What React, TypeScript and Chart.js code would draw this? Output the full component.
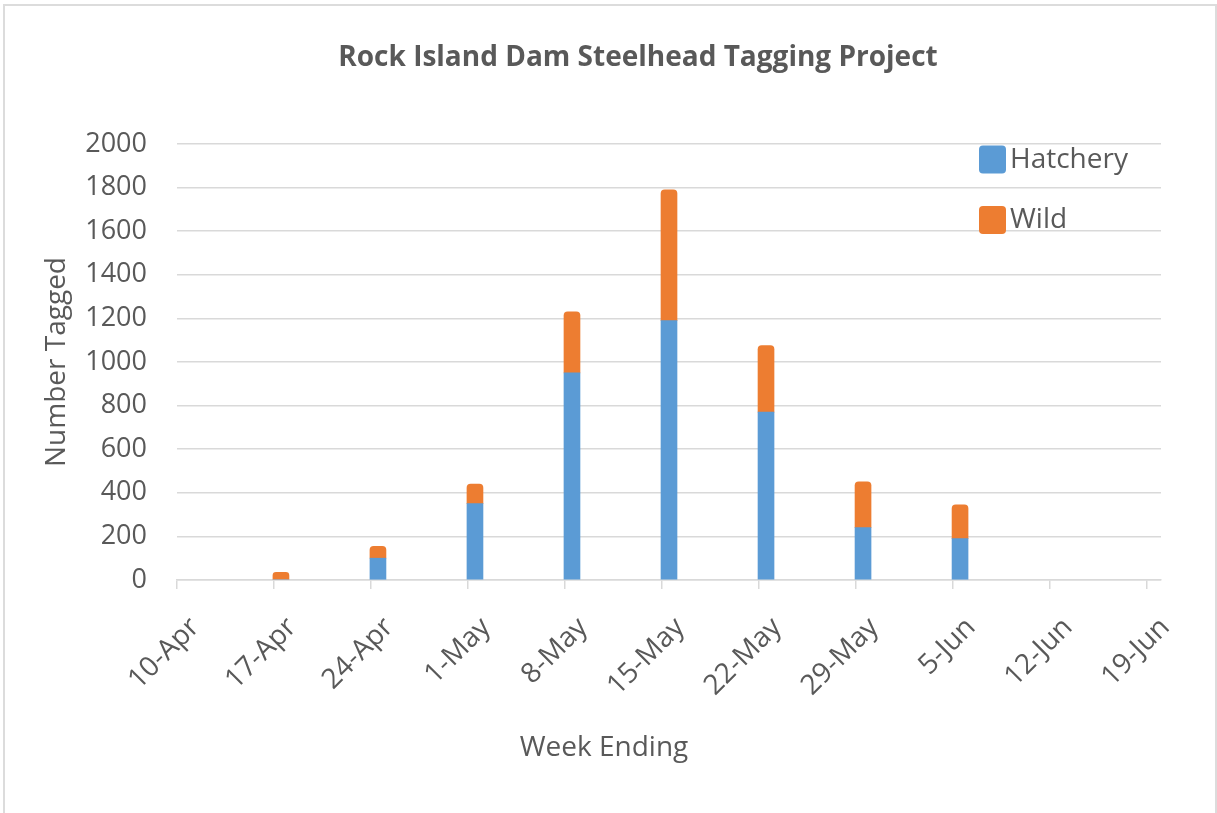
import React, { useEffect, useRef } from "react";
import { Chart, registerables } from "chart.js";

Chart.register(...registerables);

// ---- Data ----
const chartTitle = "Rock Island Dam Steelhead Tagging Project";
const xAxisTitle = "Week Ending";
const yAxisTitle = "Number Tagged";

const tickLabels = ["10-Apr", "17-Apr", "24-Apr", "1-May", "8-May", "15-May", "22-May", "29-May", "5-Jun", "12-Jun", "19-Jun"];
const weekEnding = ["17-Apr", "24-Apr", "1-May", "8-May", "15-May", "22-May", "29-May", "5-Jun"];
const hatchery = [0, 100, 350, 950, 1190, 770, 240, 190];
const wild = [35, 55, 90, 280, 600, 305, 210, 155];

const yMin = 0;
const yMax = 2000;
const yStep = 200;

// ---- Styles ----
const BLUE = "#5B9BD5";
const ORANGE = "#ED7D31";
const TEXT = "#595959";
const GRID = "#d9d9d9";
const FONT = "'Open Sans', sans-serif";

const MONTHS: Record<string, number> = { Jan: 0, Feb: 1, Mar: 2, Apr: 3, May: 4, Jun: 5, Jul: 6 };
function dateOf(label: string) {
  const [d, m] = label.split("-");
  return Date.UTC(2000, MONTHS[m], Number(d));
}
const baseDate = dateOf(tickLabels[0]);
function dayOf(label: string) {
  return Math.round((dateOf(label) - baseDate) / 86400000);
}
const labelByDay = new Map<number, string>(tickLabels.map((l) => [dayOf(l), l]));

const textPlugin = {
  id: "excelText",
  afterDraw(chart: any) {
    const ctx = chart.ctx as CanvasRenderingContext2D;
    ctx.save();
    ctx.fillStyle = TEXT;
    ctx.textAlign = "center";
    ctx.textBaseline = "alphabetic";
    ctx.font = `bold 28px ${FONT}`;
    ctx.fillText(chartTitle, 638, 66);
    ctx.font = `28px ${FONT}`;
    ctx.fillText(xAxisTitle, 604, 756);

    // legend (inside plot area, top right)
    chart.data.datasets.forEach((ds: any, i: number) => {
      const cy = 159.5 + i * 60.5;
      ctx.fillStyle = ds.backgroundColor;
      ctx.beginPath();
      (ctx as any).roundRect(979, cy - 14, 27, 28, 4);
      ctx.fill();
      ctx.fillStyle = TEXT;
      ctx.textAlign = "left";
      ctx.font = `28px ${FONT}`;
      ctx.fillText(ds.label, 1010, cy + 8);
    });
    ctx.restore();
  },
};

export default function App() {
  const ref = useRef<HTMLCanvasElement>(null);

  useEffect(() => {
    const chart = new Chart(ref.current as HTMLCanvasElement, {
      type: "bar",
      data: {
        datasets: [
          {
            label: "Hatchery",
            data: weekEnding.map((w, i) => ({ x: dayOf(w) + 0.5, y: hatchery[i] })),
            backgroundColor: BLUE,
            barThickness: 16,
          },
          {
            label: "Wild",
            data: weekEnding.map((w, i) => ({ x: dayOf(w) + 0.5, y: wild[i] })),
            backgroundColor: ORANGE,
            barThickness: 16,
            borderRadius: { topLeft: 4, topRight: 4, bottomLeft: 0, bottomRight: 0 },
          },
        ],
      } as any,
      plugins: [textPlugin],
      options: {
        animation: false,
        responsive: false,
        devicePixelRatio: 1,
        layout: { padding: { top: 144, right: 56, left: 0, bottom: 0 } },
        plugins: {
          legend: { display: false },
          title: { display: false },
          tooltip: { enabled: false },
        },
        scales: {
          x: {
            type: "linear",
            offset: false,
            stacked: true,
            min: dayOf(tickLabels[0]),
            max: dayOf(tickLabels[tickLabels.length - 1]) + 1,
            afterBuildTicks: (s: any) => {
              s.ticks = tickLabels.map((l) => ({ value: dayOf(l) }));
            },
            afterFit: (s: any) => {
              s.height = 233;
            },
            grid: {
              display: true,
              offset: false,
              drawOnChartArea: false,
              drawTicks: true,
              tickLength: 9,
              color: GRID,
              lineWidth: 1.5,
            },
            border: { display: true, color: GRID, width: 1.5 },
            ticks: {
              autoSkip: false,
              minRotation: 45,
              maxRotation: 45,
              padding: 22,
              labelOffset: 18,
              color: TEXT,
              font: { family: FONT, size: 28 },
              callback: (v: any) => labelByDay.get(Number(v)) ?? "",
            },
          },
          y: {
            stacked: true,
            min: yMin,
            max: yMax,
            afterFit: (s: any) => {
              s.width = 177;
            },
            ticks: {
              stepSize: yStep,
              padding: 30,
              color: TEXT,
              font: { family: FONT, size: 27 },
              callback: (v: any) => String(v),
            },
            grid: { color: GRID, lineWidth: 1.5, drawTicks: false },
            border: { display: false },
            title: {
              display: true,
              text: yAxisTitle,
              color: TEXT,
              font: { family: FONT, size: 28 },
              padding: { top: 40, bottom: 0 },
            },
          },
        },
      } as any,
    });
    return () => chart.destroy();
  }, []);

  return (
    <div style={{ position: "fixed", left: 0, top: 0, width: 1217, height: 813, background: "#fff", overflow: "hidden" }}>
      <div
        style={{
          position: "absolute",
          left: 3,
          top: 4,
          width: 1214,
          height: 830,
          border: "2px solid #dcdcdc",
          boxSizing: "border-box",
        }}
      />
      <canvas
        ref={ref}
        width={1217}
        height={813}
        style={{ position: "absolute", left: 0, top: 0, width: 1217, height: 813 }}
      />
    </div>
  );
}
